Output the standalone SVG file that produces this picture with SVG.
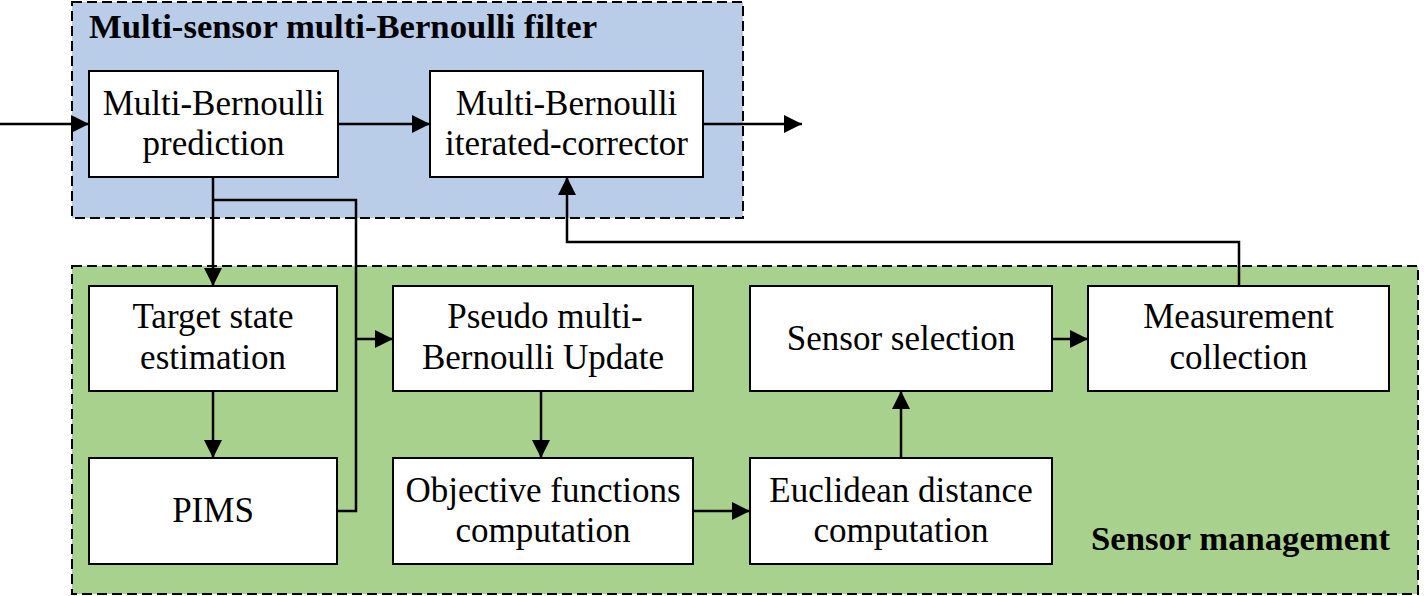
<svg xmlns="http://www.w3.org/2000/svg" width="1424" height="596" viewBox="0 0 1424 596">
<style>
.panel{stroke:#000;stroke-width:2;stroke-dasharray:10 5}
.box{fill:#fff;stroke:#000;stroke-width:2}
.t{font-family:"Liberation Serif","Times New Roman",serif;font-size:35px;fill:#000;text-anchor:middle}
.title{font-family:"Liberation Serif","Times New Roman",serif;font-size:34.7px;font-weight:bold;fill:#000}
.c{fill:none;stroke:#000;stroke-width:2.5}
</style>
<defs>
<marker id="ah" markerUnits="userSpaceOnUse" markerWidth="20" markerHeight="20" viewBox="0 0 20 20" refX="18" refY="10" orient="auto">
<path d="M0,1 L18,10 L0,19 Z" fill="#000"/>
</marker>
</defs>
<rect width="1424" height="596" fill="#fff"/>
<g id="filter-panel">
<rect class="panel" x="72" y="2" width="671" height="216" fill="#B9CDE8"/>
<text class="title" x="89" y="38">Multi-sensor multi-Bernoulli filter</text>
</g>
<g id="sm-panel">
<rect class="panel" x="72" y="266" width="1346" height="328" fill="#A9D18E"/>
<text class="title" x="1390" y="550" text-anchor="end">Sensor management</text>
</g>
<g id="prediction">
<rect class="box" x="89" y="71" width="249" height="106"/>
<text class="t" x="213.5" y="115">Multi-Bernoulli</text>
<text class="t" x="213.5" y="155">prediction</text>
</g>
<g id="corrector">
<rect class="box" x="430" y="71" width="273" height="106"/>
<text class="t" x="566.5" y="115">Multi-Bernoulli</text>
<text class="t" x="566.5" y="155">iterated-corrector</text>
</g>
<g id="target">
<rect class="box" x="89" y="286" width="248" height="105"/>
<text class="t" x="213" y="328">Target state</text>
<text class="t" x="213" y="369">estimation</text>
</g>
<g id="pims">
<rect class="box" x="89" y="458" width="248" height="106"/>
<text class="t" x="213" y="522">PIMS</text>
</g>
<g id="pseudo">
<rect class="box" x="393" y="286" width="300" height="105"/>
<text class="t" x="545" y="328">Pseudo multi-</text>
<text class="t" x="543" y="369">Bernoulli Update</text>
</g>
<g id="objective">
<rect class="box" x="393" y="458" width="300" height="106"/>
<text class="t" x="543" y="502">Objective functions</text>
<text class="t" x="543" y="542">computation</text>
</g>
<g id="selection">
<rect class="box" x="750" y="286" width="302" height="105"/>
<text class="t" x="901" y="350">Sensor selection</text>
</g>
<g id="euclidean">
<rect class="box" x="750" y="458" width="302" height="106"/>
<text class="t" x="901" y="502">Euclidean distance</text>
<text class="t" x="901" y="542">computation</text>
</g>
<g id="measurement">
<rect class="box" x="1088" y="286" width="301" height="105"/>
<text class="t" x="1238.5" y="328">Measurement</text>
<text class="t" x="1238.5" y="369">collection</text>
</g>
<g id="connectors">
<path class="c" d="M0,124 H89" marker-end="url(#ah)"/>
<path class="c" d="M338,124 H430" marker-end="url(#ah)"/>
<path class="c" d="M703,124 H802" marker-end="url(#ah)"/>
<path class="c" d="M1239,286 V242 H567 V177" marker-end="url(#ah)"/>
<path class="c" d="M213,177 V286" marker-end="url(#ah)"/>
<path class="c" d="M213,200 H356 V511 H337"/>
<path class="c" d="M356,339 H393" marker-end="url(#ah)"/>
<path class="c" d="M213,391 V458" marker-end="url(#ah)"/>
<path class="c" d="M541,391 V458" marker-end="url(#ah)"/>
<path class="c" d="M693,511 H750" marker-end="url(#ah)"/>
<path class="c" d="M901,458 V391" marker-end="url(#ah)"/>
<path class="c" d="M1052,339 H1088" marker-end="url(#ah)"/>
</g>
</svg>
